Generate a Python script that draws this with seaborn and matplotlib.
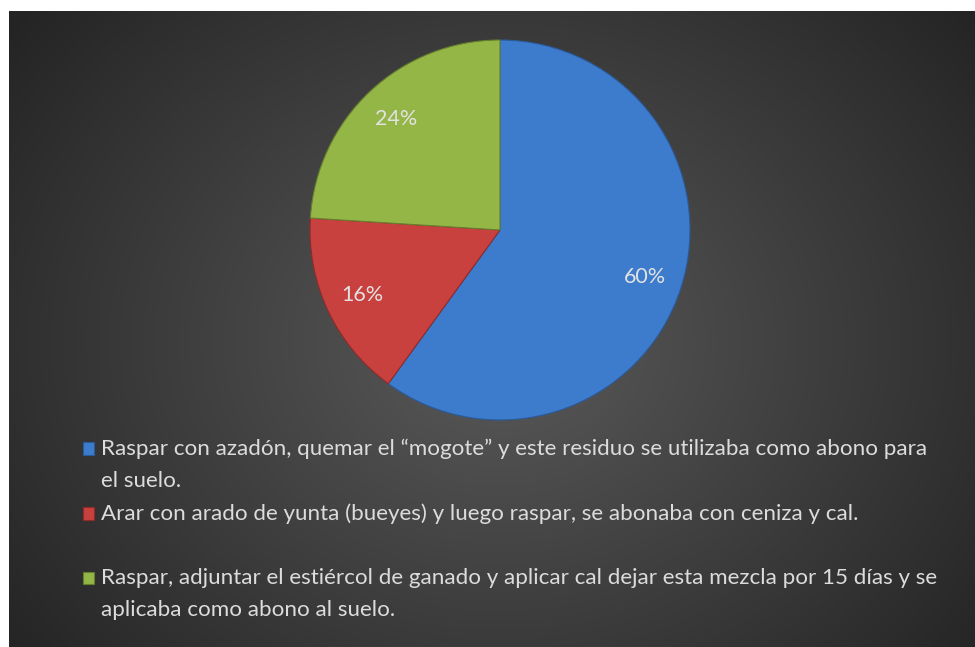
import numpy as np
import matplotlib
matplotlib.use("Agg")
import matplotlib.pyplot as plt
from matplotlib.patches import Rectangle
from matplotlib.legend_handler import HandlerPatch
import seaborn as sns

# data
labels = [
    "Raspar con azadón, quemar el \u201cmogote\u201d y este residuo se utilizaba como abono para\nel suelo.",
    "Arar con arado de yunta (bueyes) y luego raspar, se abonaba con ceniza y cal.\n",
    "Raspar, adjuntar el estiércol de ganado y aplicar cal dejar esta mezcla por 15 días y se\naplicaba como abono al suelo.",
]
values = [60, 16, 24]
colors = ["#3d7bcc", "#c8413e", "#93b647"]
edge_colors = ["#2a5a9a", "#8e2b29", "#667f2e"]

sns.set_style("dark")
plt.rcParams["font.family"] = ["Lato", "DejaVu Sans"]

fig = plt.figure(figsize=(9.75, 6.47), dpi=100)
fig.patch.set_facecolor("white")

# dark radial background
bg = fig.add_axes([9 / 975, 0, 1 - 9 / 975, (647 - 11) / 647])
yy, xx = np.mgrid[0:636, 0:966]
cx, cy = 490, 330
r = np.sqrt(((xx - cx) / 620) ** 2 + ((yy - cy) / 520) ** 2)
light = np.array([0x5a, 0x5a, 0x5a]) / 255
dark = np.array([0x24, 0x24, 0x24]) / 255
t = np.clip(r, 0, 1)[..., None]
img = light * (1 - t) + dark * t
bg.imshow(img, aspect="auto", interpolation="bilinear")
bg.set_axis_off()

# pie
ax = fig.add_axes([(500 - 190) / 975, (647 - 420) / 647, 380 / 975, 380 / 647])
wedges, texts, autotexts = ax.pie(
    values,
    colors=colors,
    startangle=90,
    counterclock=False,
    autopct="%1.0f%%",
    pctdistance=0.8,
    wedgeprops=dict(linewidth=0.8),
    textprops=dict(color="#e2e2e2", fontsize=15.5),
)
for w, ec in zip(wedges, edge_colors):
    w.set_edgecolor(ec)
ax.set_xlim(-1, 1)
ax.set_ylim(-1, 1)
ax.set_facecolor("none")


# legend square moved down so it sits beside the first line
def square(legend, orig_handle, xdescent, ydescent, width, height, fontsize):
    return Rectangle((-xdescent, -ydescent - 2.5), width, height)


leg = fig.legend(
    wedges,
    labels,
    loc="upper left",
    bbox_to_anchor=(83 / 975, 1 - 439 / 647),
    frameon=False,
    fontsize=16.1,
    handlelength=0.5,
    handleheight=0.5,
    handletextpad=0.3,
    labelspacing=0.55,
    labelcolor="#dcdcdc",
    borderaxespad=0,
    borderpad=0,
    handler_map={w: HandlerPatch(patch_func=square) for w in wedges},
)
for t in leg.get_texts():
    t.set_linespacing(1.74)
for col in leg._legend_handle_box.get_children():
    for row in col.get_children():
        row.align = "top"

fig.savefig("out.png", dpi=100, facecolor=fig.get_facecolor())
